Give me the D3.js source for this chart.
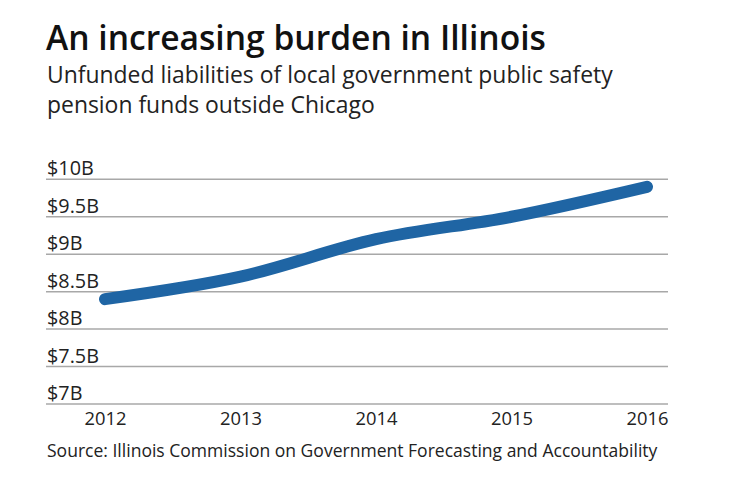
<!DOCTYPE html>
<html>
<head>
    <meta charset="utf-8">
    <script src="https://d3js.org/d3.v7.min.js"></script>
    <style>
        body { margin: 0; background: #fff; }
        text { font-family: "Open Sans", "Noto Sans", sans-serif; fill: #222; }
    </style>
</head>
<body>
    <svg width="740" height="482"></svg>
    <script>
        // chart data
        const years = [2012, 2013, 2014, 2015, 2016]
        const liabilities = [8.4, 8.7, 9.2, 9.5, 9.9]   // $ billions
        const yTicks = [7, 7.5, 8, 8.5, 9, 9.5, 10]
        const yTickLabels = ["$7B", "$7.5B", "$8B", "$8.5B", "$9B", "$9.5B", "$10B"]

        const titleText = "An increasing burden in Illinois"
        const subtitleLines = ["Unfunded liabilities of local government public safety",
                               "pension funds outside Chicago"]
        const sourceText = "Source: Illinois Commission on Government Forecasting and Accountability"

        const svg = d3.select("svg")

        const x = d3.scaleLinear().domain([2012, 2016]).range([105, 647])
        const y = d3.scaleLinear().domain([7, 10]).range([404, 179.3])
        const gridLeft = 46, gridRight = 668

        // scale a text's font so it spans roughly the width seen in the picture
        function fitWidth(sel, base, target){
            sel.style("font-size", base + "px")
            const w = sel.node().getComputedTextLength()
            const size = base * target / w
            sel.style("font-size", size + "px")
            return size
        }

        // title + subtitle
        const title = svg.append("text")
            .attr("x", 46).attr("y", 50)
            .style("font-weight", "600")
            .style("fill", "#111")
            .text(titleText)
        fitWidth(title, 30, 500)

        // measure first line, then build the two-line subtitle as one text
        const probe = svg.append("text").text(subtitleLines[0])
        const subSize = fitWidth(probe, 20, 566)
        probe.remove()

        svg.append("text")
            .attr("y", 83)
            .style("font-size", subSize + "px")
            .selectAll("tspan")
            .data(subtitleLines)
            .enter()
            .append("tspan")
            .attr("x", 47)
            .attr("dy", (d, i) => i ? 29.5 : 0)
            .text(d => d)

        // gridlines
        svg.selectAll(".grid")
            .data(yTicks)
            .enter()
            .append("line")
            .attr("class", "grid")
            .attr("x1", gridLeft)
            .attr("x2", gridRight)
            .attr("y1", d => y(d))
            .attr("y2", d => y(d))
            .attr("stroke", "#a8a8a8")
            .style("stroke-width", "1.5px")

        // y labels sit above their gridline
        const ylabs = svg.selectAll(".ylab")
            .data(yTicks)
            .enter()
            .append("text")
            .attr("class", "ylab")
            .attr("x", 47)
            .attr("y", d => y(d) - 4)
            .text((d, i) => yTickLabels[i])
        const ySize = fitWidth(d3.select(ylabs.nodes()[5]), 18, 52)
        ylabs.style("font-size", ySize + "px")

        // x axis labels (no domain line)
        const xAxis = d3.axisBottom(x)
            .tickValues(years)
            .tickFormat(d3.format("d"))
            .tickSize(0)
            .tickPadding(8)
        const gx = svg.append("g")
            .attr("transform", "translate(0," + 404 + ")")
            .call(xAxis)
        gx.select(".domain").remove()
        gx.selectAll("text")
            .style("font-family", "'Open Sans', 'Noto Sans', sans-serif")
            .attr("fill", "#222")
        const xSize = fitWidth(d3.select(gx.selectAll("text").nodes()[4]), 19, 42)
        gx.selectAll("text").style("font-size", xSize + "px")

        // the line
        const line = d3.line()
            .x((d, i) => x(years[i]))
            .y(d => y(d))
            .curve(d3.curveMonotoneX)

        svg.append("path")
            .datum(liabilities)
            .attr("d", line)
            .attr("fill", "none")
            .attr("stroke", "#1f65a4")
            .style("stroke-width", "12px")
            .style("stroke-linecap", "round")
            .style("stroke-linejoin", "round")

        // source
        const src = svg.append("text")
            .attr("x", 47).attr("y", 457)
            .text(sourceText)
        fitWidth(src, 17, 611)
    </script>
</body>
</html>
